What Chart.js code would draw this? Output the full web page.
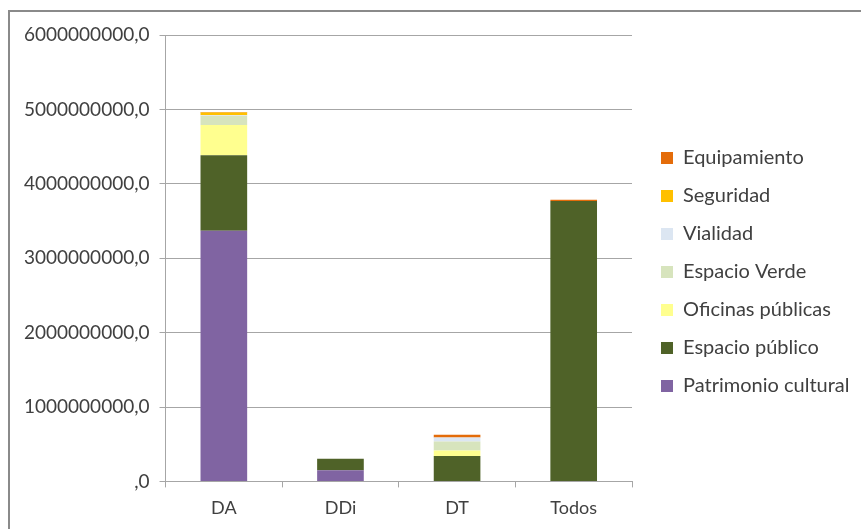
<!DOCTYPE html>
<html>
<head>
<meta charset="utf-8">
<script src="https://cdn.jsdelivr.net/npm/chart.js@4"></script>
<style>
  html, body { margin: 0; padding: 0; background: #fff; overflow: hidden; }
  #marco { position: absolute; left: 8px; top: 10px; width: 900px; height: 600px;
           border-top: 2px solid #8a8a8a; border-left: 2px solid #8a8a8a; pointer-events: none; }
  canvas { position: absolute; left: 0; top: 0; }
</style>
</head>
<body>
<canvas id="grafico" width="861" height="529"></canvas>
<div id="marco"></div>
<script>
const categorias = ["DA", "DDi", "DT", "Todos"];

// valores apilados, de abajo hacia arriba
const patrimonio = [3370000000, 150000000, 0, 0];
const espacioPublico = [1015000000, 155000000, 340000000, 3770000000];
const oficinas = [405000000, 0, 77000000, 0];
const espacioVerde = [120000000, 0, 120000000, 0];
const vialidad = [10000000, 0, 54000000, 0];
const seguridad = [40000000, 0, 0, 0];
const equipamiento = [5000000, 0, 36000000, 15000000];

const ticksY = [0, 1000000000, 2000000000, 3000000000, 4000000000, 5000000000, 6000000000];

const series = [
  { label: "Patrimonio cultural", data: patrimonio, color: "#8064A2" },
  { label: "Espacio público", data: espacioPublico, color: "#4F6228" },
  { label: "Oficinas públicas", data: oficinas, color: "#FFFF8F" },
  { label: "Espacio Verde", data: espacioVerde, color: "#D7E4BD" },
  { label: "Vialidad", data: vialidad, color: "#DCE6F2" },
  { label: "Seguridad", data: seguridad, color: "#FFC000" },
  { label: "Equipamiento", data: equipamiento, color: "#E46C0A" },
];

const fuente = "Lato, 'Open Sans', sans-serif";
const gris = "#a6a6a6";

// mueve la leyenda un poco a la derecha y hacia arriba, como en el original
const moverLeyenda = {
  id: "moverLeyenda",
  afterLayout(chart) {
    const l = chart.legend;
    l.left += 11; l.right += 11;
    l.top -= 10; l.bottom -= 10;
  },
};

new Chart(document.getElementById("grafico").getContext("2d"), {
  type: "bar",
  data: {
    labels: categorias,
    datasets: series.map((s) => ({
      label: s.label,
      data: s.data,
      backgroundColor: s.color,
      borderWidth: 0,
      categoryPercentage: 1,
      barPercentage: 0.4,
    })),
  },
  plugins: [moverLeyenda],
  options: {
    responsive: false,
    animation: false,
    layout: { padding: { left: 14, top: 35, right: 23, bottom: 0 } },
    plugins: {
      tooltip: { enabled: false },
      legend: {
        position: "right",
        reverse: true,
        labels: {
          boxWidth: 12,
          boxHeight: 12,
          padding: 18,
          color: "#404040",
          font: { family: fuente, size: 20 },
        },
      },
    },
    scales: {
      x: {
        stacked: true,
        border: { color: gris, width: 1 },
        grid: { drawOnChartArea: false, drawTicks: true, tickLength: 6, color: gris },
        ticks: { color: "#404040", padding: 10, font: { family: fuente, size: 18 } },
      },
      y: {
        stacked: true,
        min: 0,
        max: 6000000000,
        afterBuildTicks: (eje) => { eje.ticks = ticksY.map((v) => ({ value: v })); },
        border: { color: gris, width: 1 },
        grid: { color: gris, lineWidth: 1, tickLength: 6 },
        ticks: {
          color: "#404040",
          padding: 10,
          font: { family: fuente, size: 19 },
          callback: (v) => (v === 0 ? ",0" : v.toFixed(1).replace(".", ",")),
        },
      },
    },
  },
});
</script>
</body>
</html>
